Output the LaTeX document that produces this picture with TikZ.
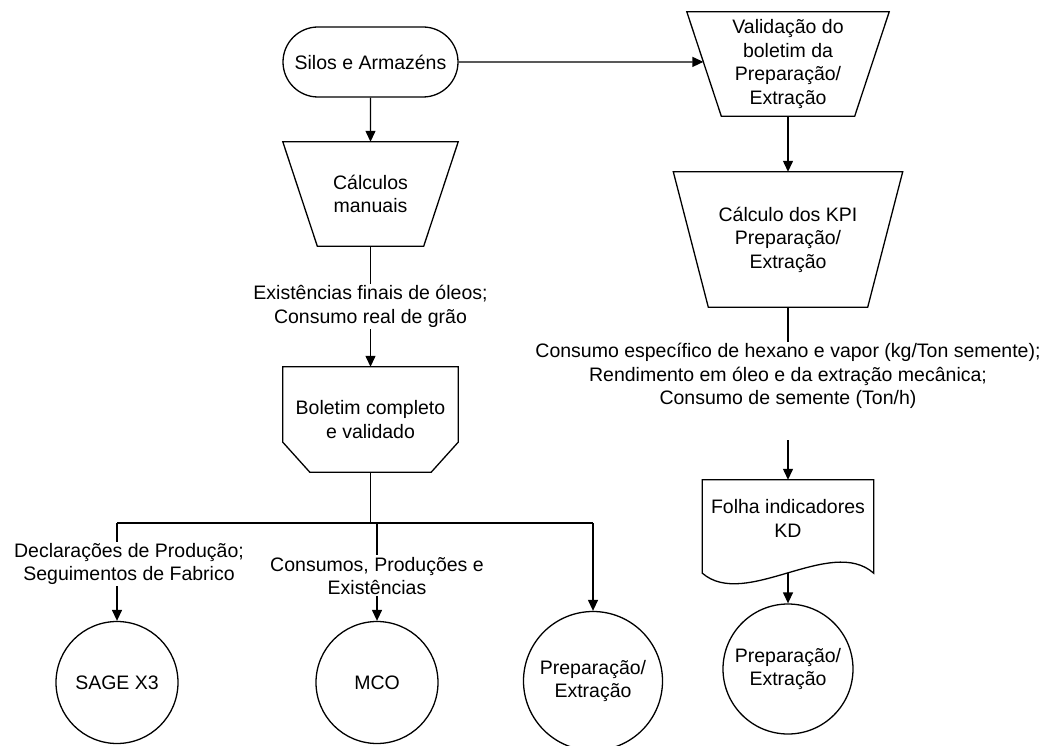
\documentclass[tikz,border=0pt]{standalone}
\usepackage{fontspec}
\setmainfont{Liberation Sans}
\usetikzlibrary{arrows.meta,shapes.misc,calc}

\begin{document}
\begin{tikzpicture}[x=1pt,y=-1pt,
  every node/.style={font=\fontsize{19.5}{23.5}\selectfont, align=center, inner sep=0pt},
  flow/.style={line width=1.3pt, draw=black},
  arr/.style={flow, -{Triangle[length=11pt,width=10pt]}},
  frame/.style={draw=none, minimum width=#1},
  lbl/.style={fill=white, inner xsep=2pt, inner ysep=1.5pt},
  terminal/.style={rounded rectangle, draw, line width=1.3pt, minimum width=175pt, minimum height=70pt},
  endpoint/.style={circle, draw, line width=1.3pt, minimum size=#1}
]
\useasboundingbox (0,0) rectangle (1046,746);

% ---- left column ----
\node[terminal] (silos) at (370.5,62) {Silos e Armazéns};

\node[frame=175pt, minimum height=104pt] (manual) at (370.5,194) {Cálculos\\manuais};
\draw[flow] (manual.north west) -- (manual.north east)
  -- ([xshift=-34.5pt]manual.south east) -- ([xshift=34.5pt]manual.south west) -- cycle;

\node[frame=175pt, minimum height=105pt] (boletim) at (370.5,419.5) {Boletim completo\\e validado};
\draw[flow] (boletim.north west) -- (boletim.north east)
  -- ([yshift=30pt]boletim.south east) -- ([xshift=-27pt]boletim.south east)
  -- ([xshift=27pt]boletim.south west) -- ([yshift=30pt]boletim.south west) -- cycle;

% ---- right column ----
\node[frame=202pt, minimum height=104pt] (valid) at (788,64)
  {Validação do\\boletim da\\Preparação/\\Extração};
\draw[flow] (valid.north west) -- (valid.north east)
  -- ([xshift=-34.5pt]valid.south east) -- ([xshift=34.5pt]valid.south west) -- cycle;

\node[frame=229pt, minimum height=135pt] (kpi) at (788,239.5)
  {Cálculo dos KPI\\Preparação/\\Extração};
\draw[flow] (kpi.north west) -- (kpi.north east)
  -- ([xshift=-35pt]kpi.south east) -- ([xshift=35pt]kpi.south west) -- cycle;

\node[lbl] (lblkpi) at (788,376)
  {Consumo específico de hexano e vapor (kg/Ton semente);\\Rendimento em óleo e da extração mecânica;\\Consumo de semente (Ton/h)};
\coordinate (kpiout) at (788,440);

\node[frame=171pt, minimum height=77pt] (folha) at (788,518.5) {Folha indicadores\\KD};
\draw[flow] (folha.north west) -- (folha.north east) -- ([yshift=-16pt]folha.south east)
  .. controls ([xshift=-43pt,yshift=22pt]folha.south east)
  and ([xshift=43pt,yshift=-53pt]folha.south west) .. ([yshift=-16pt]folha.south west) -- cycle;
\coordinate (folhaout) at ([yshift=-16pt]folha.south);

% ---- destinations ----
\node[endpoint=122pt] (sage) at (117,682.5) {SAGE X3};
\node[endpoint=122pt] (mco) at (377,682.5) {MCO};
\node[endpoint=139pt] (prep1) at (593,681) {Preparação/\\Extração};
\node[endpoint=130pt] (prep2) at (788,669) {Preparação/\\Extração};

% ---- connectors ----
\draw[arr] (silos) -- (manual);
\coordinate (validin) at ($(valid.north west)!0.48!([xshift=34.5pt]valid.south west)$);
\draw[arr] (silos) -- (validin);
\draw[arr] (manual) -- node[lbl]{Existências finais de óleos;\\Consumo real de grão} (boletim);

\draw[arr] (valid) -- (kpi);
\draw[flow] (kpi) -- (lblkpi);
\draw[arr] (kpiout) -- (folha);
\draw[arr] (folhaout) -- (prep2);

\coordinate (split) at (370.5,523);
\draw[flow] (boletim) -- (split);
\draw[flow] (split -| sage) -- (split -| prep1);
\draw[arr] (split -| sage) -- node[lbl, pos=0.42, xshift=12pt]
  {Declarações de Produção;\\Seguimentos de Fabrico} (sage);
\draw[arr] (split -| mco) -- node[lbl, pos=0.54]
  {Consumos, Produções e\\Existências} (mco);
\draw[arr] (split -| prep1) -- (prep1);
\end{tikzpicture}
\end{document}
